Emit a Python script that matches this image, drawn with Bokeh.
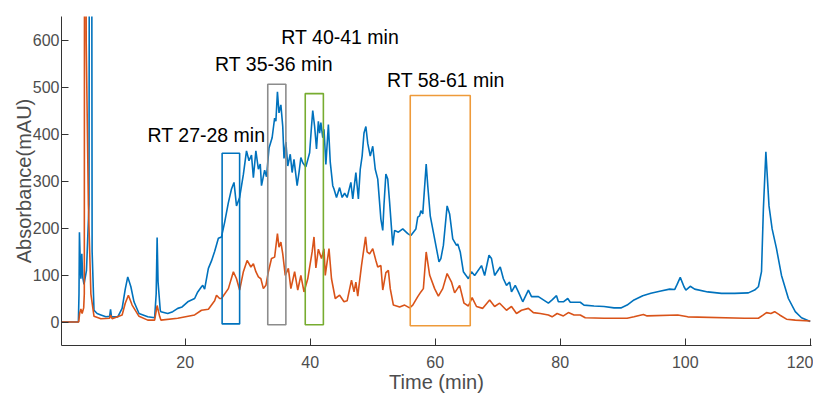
from bokeh.plotting import figure
from bokeh.models import Range1d, FixedTicker, ColumnDataSource
from bokeh.core.properties import value
from bokeh.embed import file_html
from bokeh.resources import INLINE

# ---- data ----
blue_time = [0.2, 2.9, 3.0, 3.07, 3.2, 3.3, 3.45, 3.6, 3.8, 4.2, 4.6, 4.85, 5.1, 5.4, 5.9, 6.5, 7.3, 7.9, 8.05, 8.2,
             9.2, 9.9, 10.4, 10.8, 11.3, 11.8, 12.6, 14.0, 15.1, 15.35, 15.5, 15.65, 16.0, 16.1, 17.2, 18.0, 18.8,
             19.5, 20.4, 21.5, 22.0, 22.6, 22.8, 23.1, 23.7, 24.2, 24.7, 25.3, 25.8, 26.3, 26.9, 27.4, 27.8, 28.2,
             28.7, 29.3, 29.8, 30.2, 30.6, 30.9, 31.3, 31.7, 32.0, 32.2, 32.7, 33.0, 33.4, 33.9, 34.3, 34.5, 34.75,
             35.0, 35.3, 35.6, 35.8, 36.1, 36.4, 36.8, 37.1, 37.4, 37.9, 38.2, 38.5, 38.8, 39.3, 39.9, 40.2, 40.4,
             40.7, 41.0, 41.3, 41.5, 41.7, 42.0, 42.2, 42.5, 42.9, 43.2, 43.6, 43.8, 44.2, 44.7, 45.1, 45.5, 45.9,
             46.5, 46.8, 47.3, 47.7, 48.0, 48.3, 48.6, 48.9, 49.2, 49.6, 50.0, 50.4, 50.8, 51.3, 51.6, 51.8, 52.1,
             52.4, 52.7, 53.2, 53.5, 54.1, 54.8, 55.6, 56.1, 56.9, 57.2, 57.5, 57.7, 58.0, 58.55, 58.8, 59.2, 59.9,
             60.6, 60.9, 61.3, 61.9, 62.3, 62.8, 63.4, 63.6, 64.0, 64.5, 65.3, 65.8, 66.3, 67.4, 67.9, 68.6, 69.0,
             69.5, 70.4, 70.9, 71.4, 71.9, 72.2, 72.8, 73.3, 74.0, 74.9, 75.4, 76.5, 77.3, 78.1, 78.7, 79.4, 79.7,
             80.5, 81.2, 81.6, 83.2, 83.8, 85.4, 87.0, 88.6, 89.7, 90.7, 91.8, 93.2, 94.5, 96.1, 97.5, 98.3, 98.7,
             99.2, 99.8, 100.1, 100.8, 101.5, 103.6, 105.8, 107.9, 110.1, 111.1, 111.7, 112.2, 112.5, 112.9, 113.4,
             113.9, 114.6, 115.4, 116.5, 117.6, 118.6, 120.0]
blue_abs = [0, 0, 60, 191, 130, 92, 145, 95, 80, 110, 250, 3000, 150, 25, 18, 15, 11, 12, 27, 11,
            11, 29, 70, 96, 75, 43, 18, 11, 9, 60, 180, 85, 25, 22, 18, 22, 29,
            32, 43, 50, 64, 75, 78, 70, 114, 130, 150, 178, 181, 212, 254, 283, 297, 247,
            265, 314, 364, 343, 355, 307, 364, 325, 336, 290, 323, 309, 370, 392, 434, 427, 490,
            445, 462, 416, 348, 383, 332, 357, 318, 346, 290, 318, 350, 339, 330, 360, 416, 450,
            416, 368, 427, 402, 424, 392, 410, 335, 420, 340, 290, 283, 265, 286, 265, 274, 265,
            297, 262, 318, 262, 325, 353, 402, 416, 380, 353, 374, 325, 304, 219, 195, 250, 315,
            304, 254, 163, 195, 191, 198, 188, 184, 198, 223, 226, 237, 230, 336, 290, 226, 177,
            128, 135, 163, 247, 230, 177, 163, 166, 149, 107, 92, 107, 99, 120, 99, 142, 135,
            99, 117, 92, 78, 85, 64, 78, 64, 43, 68, 54, 54, 47, 40, 47, 56, 43,
            43, 50, 42, 42, 36, 34, 33, 30, 30, 36, 47, 56, 61, 66, 70, 69, 80,
            95, 75, 68, 76, 70, 64, 61, 61, 62, 68, 75, 107, 240, 362, 247,
            198, 156, 99, 50, 22, 9, 1]

orange_time = [0.2, 2.95, 3.1, 3.3, 3.5, 3.75, 3.85, 3.95, 4.15, 4.5, 4.9, 5.4, 6.5, 7.9, 8.05, 8.3, 9.9, 10.4, 10.9,
               11.5, 12.6, 14.0, 15.1, 15.5, 15.9, 16.1, 18.8, 21.5, 22.6, 23.7, 24.7, 25.0, 25.5, 25.8, 26.9, 27.7,
               28.2, 28.7, 29.3, 29.9, 30.5, 30.9, 31.3, 31.7, 32.1, 32.5, 32.9, 33.3, 33.8, 34.3, 34.75, 35.0, 35.3,
               35.6, 36.0, 36.5, 36.9, 37.5, 38.0, 38.5, 39.0, 39.6, 40.3, 40.6, 40.9, 41.3, 41.8, 42.2, 42.4, 43.0,
               43.4, 44.0, 44.7, 45.4, 45.9, 46.6, 47.0, 47.3, 47.6, 48.2, 48.85, 49.1, 49.5, 50.0, 50.5, 50.8, 51.3,
               51.6, 52.1, 52.5, 52.8, 53.3, 54.3, 55.1, 55.9, 56.4, 57.2, 57.7, 58.1, 58.55, 59.1, 59.9, 60.5, 61.2,
               61.9, 62.6, 63.1, 63.9, 64.6, 65.3, 65.9, 66.6, 67.6, 68.7, 69.5, 70.3, 71.4, 72.2, 73.0, 73.8, 74.9,
               75.7, 76.8, 78.1, 78.7, 79.5, 80.5, 81.3, 82.2, 83.2, 84.0, 87.0, 90.7, 91.8, 93.3, 93.9, 98.8, 100.4,
               109.5, 111.7, 112.5, 113.0, 113.7, 114.3, 115.1, 116.2, 117.6, 120.0]
orange_abs = [0, 0, 18, 28, 18, 30, 60, 2500, 600, 250, 60, 12, 7, 8, 15, 7, 15, 40, 57,
              36, 12, 4, 4, 35, 12, 4, 8, 15, 25, 27, 45, 57, 50, 50, 71, 107,
              92, 68, 107, 131, 117, 124, 107, 96, 92, 71, 78, 107, 135, 138, 188, 159, 170,
              145, 99, 114, 71, 107, 68, 99, 64, 92, 149, 181, 115, 155, 135, 156, 99, 156,
              92, 50, 57, 43, 45, 89, 64, 85, 55, 120, 181, 149, 145, 156, 131, 117, 120,
              68, 105, 110, 71, 36, 32, 36, 30, 36, 54, 64, 71, 149, 100, 71, 55, 71,
              103, 85, 62, 78, 40, 34, 52, 33, 29, 47, 33, 40, 25, 33, 18, 25, 29,
              20, 18, 15, 11, 18, 13, 20, 15, 15, 9, 8, 8, 11, 16, 13, 15, 11,
              8, 8, 15, 20, 18, 22, 15, 6, 4, 2]

# retention-time windows (boxes) and their labels
box_left = [25.9, 33.2, 39.2, 56.0]
box_right = [28.7, 36.1, 42.1, 65.6]
box_bottom = [-4, -6, -6, -8]
box_top = [359, 506, 486, 482]
box_colors = ["#0072BD", "#8C8C8C", "#77AC30", "#EE9A3A"]

label_x = [23.4, 34.2, 44.8, 61.7]
label_y = [397, 549, 606, 515]
label_text = ["RT 27-28 min", "RT 35-36 min", "RT 40-41 min", "RT 58-61 min"]

x_ticks = [20, 40, 60, 80, 100, 120]
y_ticks = [0, 100, 200, 300, 400, 500, 600]

FONT = "Liberation Sans"
AXC = "#333333"

p = figure(width=813, height=395, output_backend="svg", toolbar_location=None,
           x_range=Range1d(0.2, 120.2), y_range=Range1d(-50, 650),
           min_border_left=61, min_border_right=2, min_border_top=16, min_border_bottom=46)
p.outline_line_color = None
p.xgrid.visible = False
p.ygrid.visible = False
p.background_fill_color = "white"
p.border_fill_color = "white"

p.line(blue_time, blue_abs, line_color="#0072BD", line_width=1.6)
p.line(orange_time, orange_abs, line_color="#D95319", line_width=1.6)

p.quad(left=box_left, right=box_right, bottom=box_bottom, top=box_top,
       fill_color=None, line_color=box_colors, line_width=1.6)

src = ColumnDataSource(dict(x=label_x, y=label_y, t=label_text))
p.text(x="x", y="y", text="t", source=src, text_align="center", text_baseline="middle",
       text_font=value(FONT), text_font_size=value("19.5px"), text_color="black")

for ax in (p.xaxis[0], p.yaxis[0]):
    ax.axis_line_color = AXC
    ax.axis_line_width = 1
    ax.major_tick_line_color = AXC
    ax.major_tick_in = 7
    ax.major_tick_out = 0
    ax.minor_tick_line_color = None
    ax.major_label_text_font = FONT
    ax.major_label_text_font_size = "16px"
    ax.major_label_text_color = "#4D4D4D"
    ax.axis_label_text_font = FONT
    ax.axis_label_text_font_size = "20px"
    ax.axis_label_text_font_style = "normal"
    ax.axis_label_text_color = "#4D4D4D"

p.xaxis.ticker = FixedTicker(ticks=x_ticks)
p.yaxis.ticker = FixedTicker(ticks=y_ticks)
p.xaxis.axis_label = "Time (min)"
p.yaxis.axis_label = "Absorbance(mAU)"
p.xaxis.major_label_standoff = 10
p.xaxis.axis_label_standoff = 0
p.yaxis.major_label_standoff = 2
p.yaxis.axis_label_standoff = -5

open("out.html", "w").write(file_html(p, INLINE))
